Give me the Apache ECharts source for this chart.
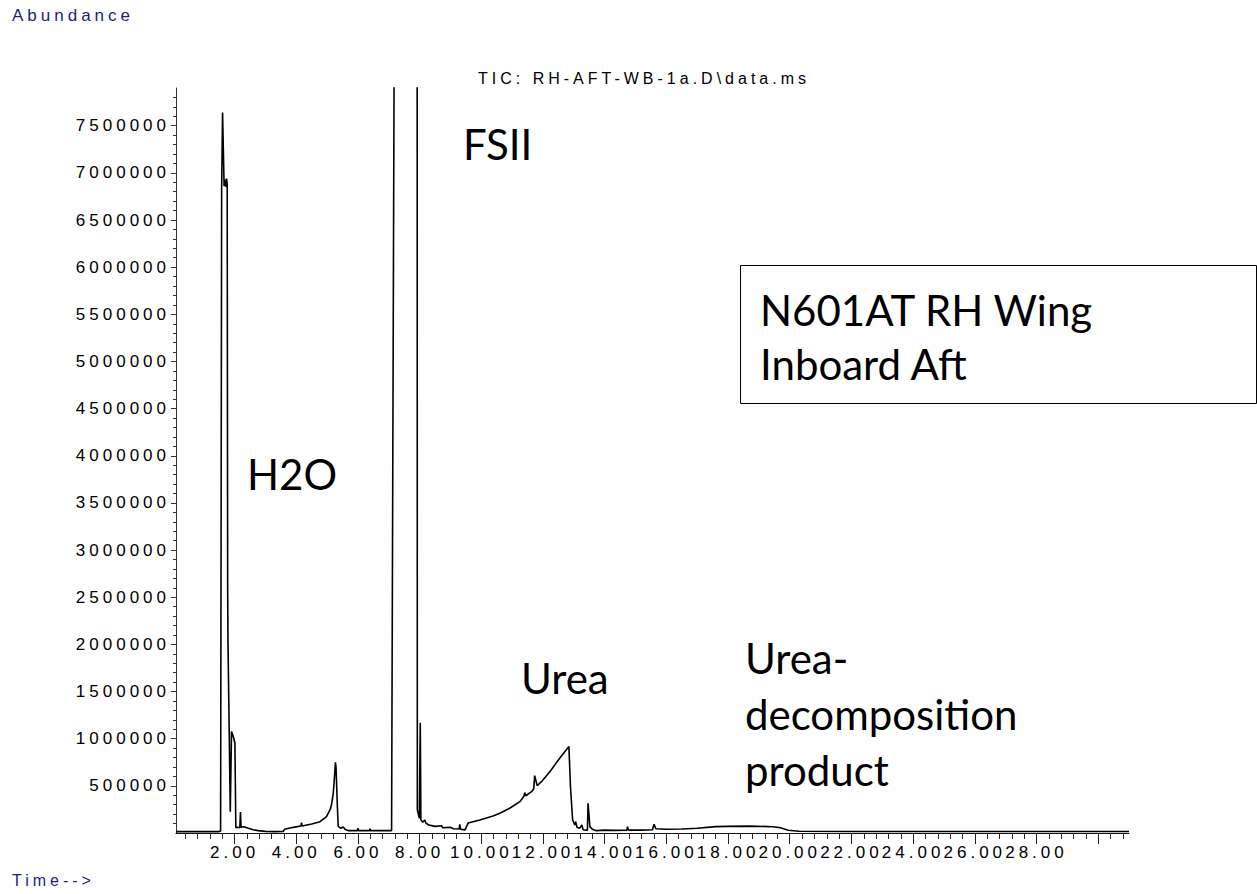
<!DOCTYPE html>
<html>
<head>
<meta charset="utf-8">
<title>TIC: RH-AFT-WB-1a.D\data.ms</title>
<script src="https://cdn.jsdelivr.net/npm/echarts@6.0.0/dist/echarts.min.js"></script>
<style>
  html, body { margin: 0; padding: 0; background: #ffffff; }
  #chart { width: 1257px; height: 894px; }
  /* instrument print-out: small text is widely spaced */
  #chart text[style*="Liberation"] { letter-spacing: 4px; }
</style>
</head>
<body>
<div id="chart"></div>
<script>
// retention time (min) and abundance
const timeMin = [
  0.10, 1.50, 1.546, 1.58, 1.61, 1.66, 1.69, 1.72, 1.74, 1.76,
  1.775, 1.785, 1.86, 1.90, 1.96, 2.01, 2.04, 2.10, 2.17, 2.19,
  2.21, 2.30, 2.45, 2.60, 2.76, 3.00, 3.30, 3.58, 3.62, 3.90,
  4.15, 4.17, 4.19, 4.50, 4.77, 4.98, 5.10, 5.14, 5.20, 5.24,
  5.27, 5.29, 5.33, 5.36, 5.45, 5.52, 5.58, 5.68, 5.98, 6.00,
  6.02, 6.37, 6.39, 6.41, 7.05, 7.09, 7.17, 7.50, 7.92, 7.925,
  7.99, 8.02, 8.04, 8.10, 8.17, 8.20, 8.30, 8.50, 8.71, 8.75,
  8.98, 9.10, 9.28, 9.30, 9.33, 9.47, 9.57, 9.95, 10.38, 10.60,
  10.92, 11.25, 11.38, 11.41, 11.44, 11.63, 11.70, 11.73, 11.81, 11.95,
  12.22, 12.54, 12.84, 12.89, 12.96, 13.03, 13.06, 13.10, 13.19, 13.26,
  13.30, 13.40, 13.44, 13.46, 13.52, 13.60, 13.73, 14.00, 14.30, 14.72,
  14.74, 14.78, 15.20, 15.55, 15.60, 15.66, 16.00, 16.50, 17.00, 17.60,
  18.00, 18.70, 19.46, 19.70, 19.95, 20.30, 22.00, 25.00, 28.00, 31.00
];
const abundance = [
  15000, 15000, 20000, 6820000, 7640000, 6860000, 6930000, 6850000, 6940000, 6880000,
  2600000, 2050000, 226000, 1075000, 1020000, 955000, 55000, 62000, 55000, 223000,
  62000, 66000, 50000, 35000, 25000, 17000, 15000, 17000, 40000, 60000,
  74000, 110000, 75000, 95000, 120000, 173000, 250000, 297000, 424000, 600000,
  750000, 690000, 300000, 70000, 50000, 65000, 40000, 25000, 25000, 50000,
  25000, 25000, 45000, 25000, 25000, 25000, 7950000, 12000000, 7950000, 245000,
  155000, 1170000, 140000, 115000, 138000, 105000, 85000, 70000, 77000, 55000,
  60000, 45000, 42000, 92000, 40000, 33000, 105000, 138000, 180000, 209000,
  262000, 332000, 390000, 427000, 395000, 438000, 470000, 608000, 502000, 544000,
  650000, 792000, 916000, 491000, 138000, 85000, 120000, 60000, 50000, 85000,
  35000, 30000, 30000, 315000, 67000, 40000, 25000, 30000, 28000, 30000,
  67000, 30000, 30000, 35000, 92000, 45000, 40000, 42000, 50000, 68000,
  70000, 73000, 67000, 55000, 30000, 18000, 16000, 16000, 16000, 16000
];

const xLabelValues = [2, 4, 6, 8, 10, 12, 14, 16, 18, 20, 22, 24, 26, 28];
const xMajorTicks = [2, 4, 6, 8, 10, 12, 14, 16, 18, 20, 22, 24, 26, 28, 30];
const yLabelValues = [
  500000, 1000000, 1500000, 2000000, 2500000, 3000000, 3500000, 4000000,
  4500000, 5000000, 5500000, 6000000, 6500000, 7000000, 7500000
];

const X_MIN = 0.1, X_MAX = 31;
const Y_MIN = 0, Y_MAX = 7900000;

const SMALL_FONT = "Liberation Sans";
const NOTE_FONT = "Lato";
const BLUE = "#1c1c8a";

// minor tick positions (0.4 min / 100000 counts)
const xMinorTicks = [];
for (let i = 1; i * 0.4 < X_MAX; i++) {
  const v = Math.round(i * 4) / 10;
  if (v % 2 !== 0) xMinorTicks.push(v);
}
const yMinorTicks = [];
for (let v = 100000; v < Y_MAX; v += 100000) {
  if (v % 500000 !== 0) yMinorTicks.push(v);
}

const trace = timeMin.map((t, i) => [t, abundance[i]]);

function noteText(text, x, y) {
  return {
    type: "text",
    x,
    y,
    silent: true,
    style: {
      text,
      fontFamily: NOTE_FONT,
      fontSize: 42,
      fill: "#000000",
      textAlign: "left",
      textVerticalAlign: "middle",
    },
  };
}

function smallText(text, x, y, opts = {}) {
  return {
    type: "text",
    x,
    y,
    silent: true,
    style: {
      text,
      fontFamily: SMALL_FONT,
      fontSize: opts.size || 17,
      fill: opts.color || "#000000",
      textAlign: opts.align || "left",
      textVerticalAlign: "middle",
    },
  };
}

const chart = echarts.init(document.getElementById("chart"), null, { renderer: "svg" });

chart.setOption({
  animation: false,
  backgroundColor: "#ffffff",
  grid: { left: 176, right: 128, top: 88, bottom: 61, containLabel: false, outerBoundsMode: "none" },
  xAxis: [
    {
      type: "value",
      min: X_MIN,
      max: X_MAX,
      position: "bottom",
      axisLine: { show: true, onZero: false, lineStyle: { color: "#111111", width: 1 } },
      axisTick: { show: true, customValues: xMajorTicks, length: 11, lineStyle: { color: "#222222" } },
      axisLabel: {
        customValues: xLabelValues,
        formatter: (v) => Number(v).toFixed(2),
        fontFamily: SMALL_FONT,
        fontSize: 17,
        color: "#000000",
        margin: 11,
      },
      splitLine: { show: false },
    },
    {
      type: "value",
      min: X_MIN,
      max: X_MAX,
      position: "bottom",
      axisLine: { show: false, onZero: false },
      axisTick: { show: true, customValues: xMinorTicks, length: 6, lineStyle: { color: "#222222" } },
      axisLabel: { show: false },
      splitLine: { show: false },
    },
  ],
  yAxis: [
    {
      type: "value",
      min: Y_MIN,
      max: Y_MAX,
      position: "left",
      axisLine: { show: true, onZero: false, lineStyle: { color: "#333333", width: 1 } },
      axisTick: { show: true, customValues: yLabelValues, length: 5, lineStyle: { color: "#333333" } },
      axisLabel: {
        customValues: yLabelValues,
        formatter: (v) => String(v),
        fontFamily: SMALL_FONT,
        fontSize: 17,
        color: "#000000",
        margin: 6,
      },
      splitLine: { show: false },
    },
    {
      type: "value",
      min: Y_MIN,
      max: Y_MAX,
      position: "left",
      axisLine: { show: false, onZero: false },
      axisTick: { show: true, customValues: yMinorTicks, length: 3, lineStyle: { color: "#333333" } },
      axisLabel: { show: false },
      splitLine: { show: false },
    },
  ],
  series: [
    {
      name: "TIC",
      type: "line",
      xAxisIndex: 0,
      yAxisIndex: 0,
      data: trace,
      showSymbol: false,
      symbol: "none",
      clip: true,
      lineStyle: { color: "#000000", width: 1.6 },
      silent: true,
    },
  ],
  graphic: [
    smallText("Abundance", 12, 15, { color: BLUE }),
    smallText("Time-->", 12, 880, { color: BLUE, size: 16 }),
    smallText("TIC: RH-AFT-WB-1a.D\\data.ms", 644, 78, { size: 16, align: "center" }),
    noteText("H2O", 247, 474),
    noteText("FSII", 463, 144),
    noteText("Urea", 521, 678),
    noteText("Urea-", 745, 658),
    noteText("decomposition", 745, 714),
    noteText("product", 745, 770),
    {
      type: "rect",
      silent: true,
      shape: { x: 740.5, y: 265.5, width: 516, height: 138 },
      style: { fill: "none", stroke: "#000000", lineWidth: 1 },
    },
    noteText("N601AT RH Wing", 760, 310),
    noteText("Inboard Aft", 760, 364),
  ],
});
</script>
</body>
</html>
